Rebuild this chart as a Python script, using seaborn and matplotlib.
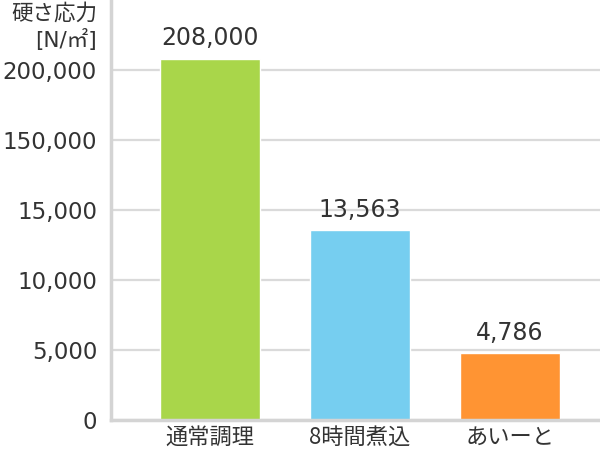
import numpy as np
import matplotlib
matplotlib.use("Agg")
import matplotlib.pyplot as plt
import seaborn as sns

# Hardness of the three cooking methods
categories = ["通常調理", "8時間煮込", "あいーと"]
values = [208000, 13563, 4786]
colors = ["#a9d64a", "#76cef0", "#ff9433"]

# Broken y axis: each tick occupies the same vertical step
tick_values = [0, 5000, 10000, 15000, 150000, 200000]
tick_labels = ["0", "5,000", "10,000", "15,000", "150,000", "200,000"]
y_top = 250000

sns.set_theme(style="white")
plt.rcParams["font.family"] = ["DejaVu Sans", "Noto Sans CJK JP"]

knots_data = np.array(tick_values + [y_top], dtype=float)
knots_pos = np.arange(len(knots_data), dtype=float)


def forward(v):
    v = np.asarray(v, dtype=float)
    out = np.interp(v, knots_data, knots_pos)
    out = np.where(v < knots_data[0], (v - knots_data[0]) / 5000.0, out)
    out = np.where(v > knots_data[-1],
                   knots_pos[-1] + (v - knots_data[-1]) / 50000.0, out)
    return out


def inverse(p):
    p = np.asarray(p, dtype=float)
    out = np.interp(p, knots_pos, knots_data)
    out = np.where(p < knots_pos[0], knots_data[0] + p * 5000.0, out)
    out = np.where(p > knots_pos[-1],
                   knots_data[-1] + (p - knots_pos[-1]) * 50000.0, out)
    return out


fig = plt.figure(figsize=(6, 4.5), dpi=100)
ax = fig.add_axes([111 / 600, 30 / 450, 1 - 111 / 600, 420 / 450])
ax.set_yscale("function", functions=(forward, inverse))

sns.barplot(x=categories, y=values, hue=categories, palette=colors,
            width=2 / 3, legend=False, ax=ax, saturation=1)

ax.set_yscale("function", functions=(forward, inverse))
ax.set_ylim(0, y_top)
ax.set_xlim(-0.66, 2.6)
ax.set_yticks(tick_values)
ax.set_yticklabels(tick_labels)
ax.yaxis.grid(True, color="#dadada", linewidth=1.6)
ax.set_axisbelow(True)

for side in ["top", "right"]:
    ax.spines[side].set_visible(False)
for side in ["left", "bottom"]:
    ax.spines[side].set_color("#d4d4d4")
    ax.spines[side].set_linewidth(2.5)

ax.tick_params(axis="y", length=0, pad=10, labelsize=16.5, labelcolor="#333333")
ax.tick_params(axis="x", length=0, pad=4, labelsize=16, labelcolor="#333333")
for lbl in ax.get_xticklabels():
    lbl.set_family(["Noto Sans CJK JP", "DejaVu Sans"])
ax.set_xlabel("")
ax.set_ylabel("")

for container in ax.containers:
    ax.bar_label(container, labels=[f"{v:,.0f}" for v in container.datavalues],
                 padding=6, fontsize=17, color="#333333")

fig.text(97 / 600, 1 - 3 / 450, "硬さ応力\n[N/㎡]", ha="right", va="top",
         fontsize=15.5, color="#333333", linespacing=1.3)

fig.savefig("out.png", dpi=100)
